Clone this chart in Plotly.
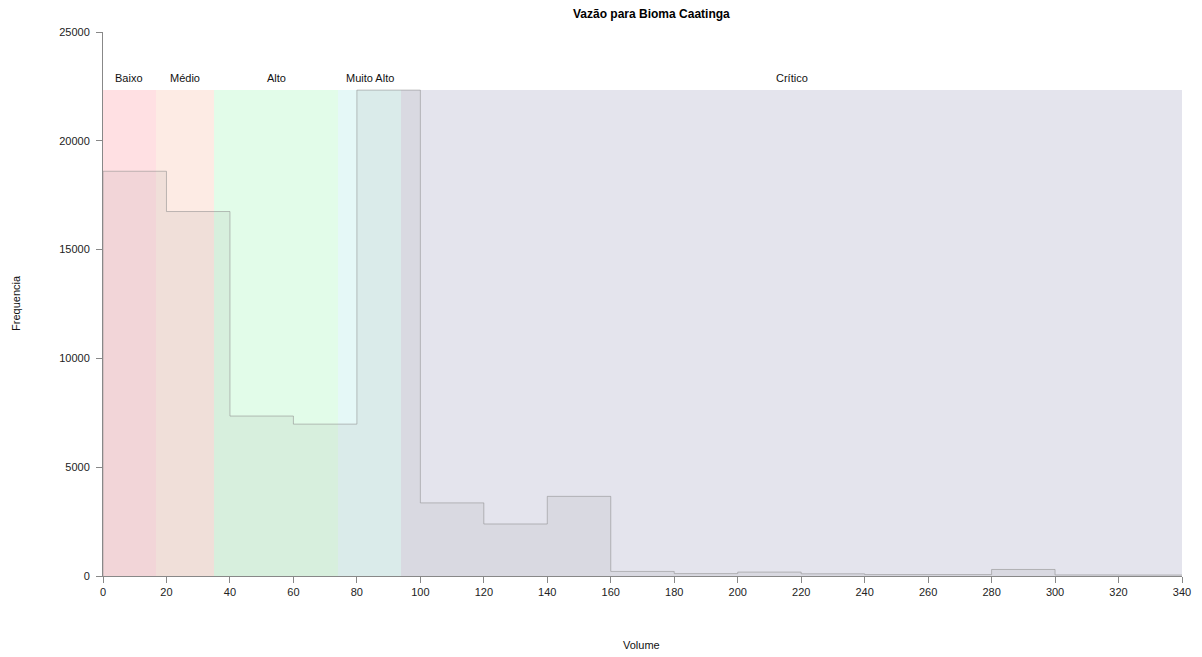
import plotly.graph_objects as go

# Histogram data (bin edges of width 20)
bin_edges = [0, 20, 40, 60, 80, 100, 120, 140, 160, 180, 200, 220, 240, 260, 280, 300, 320, 340]
counts = [18600, 16750, 7350, 6980, 22330, 3360, 2390, 3660, 210, 110, 180, 100, 65, 65, 300, 50, 45]

# Risk bands
band_labels = ["Baixo", "Médio", "Alto", "Muito Alto", "Crítico"]
band_starts = [0, 16.6, 35.0, 74.2, 93.9]
band_ends = [16.6, 35.0, 74.2, 93.9, 340]
band_colors = ["rgb(255,224,227)", "rgb(253,235,228)", "rgb(226,252,233)", "rgb(229,248,247)", "rgb(228,228,237)"]

x_ticks = list(range(0, 341, 20))
y_ticks = [0, 5000, 10000, 15000, 20000, 25000]

band_top = max(counts)
font = "Liberation Sans, Arial, sans-serif"

fig = go.Figure()

# background bands as bars
for lab, s, e, c in zip(band_labels, band_starts, band_ends, band_colors):
    fig.add_trace(go.Bar(x=[(s + e) / 2], y=[band_top], width=[e - s], marker=dict(color=c, line=dict(width=0)),
                         showlegend=False, hoverinfo="skip"))

# histogram as step polygon
xs = [bin_edges[0]] + bin_edges
ys = [0] + counts + [counts[-1]]
fig.add_trace(go.Scatter(x=xs, y=ys, mode="lines", line=dict(shape="hv", color="rgba(140,140,140,0.55)", width=1),
                         fill="tozeroy", fillcolor="rgba(100,100,110,0.085)", showlegend=False, hoverinfo="skip"))

annotations = []
for lab, s, e in zip(band_labels, band_starts, band_ends):
    annotations.append(dict(x=(s + e) / 2, y=band_top, xref="x", yref="y", text=lab, showarrow=False,
                            yanchor="bottom", yshift=4, font=dict(family=font, size=11, color="#111")))

annotations.append(dict(x=0.508, y=1.033, xref="paper", yref="paper", text="<b>Vazão para Bioma Caatinga</b>",
                        showarrow=False, font=dict(family=font, size=12, color="#000"), xanchor="center", yanchor="middle"))
annotations.append(dict(x=0.4995, y=-0.127, xref="paper", yref="paper", text="Volume", showarrow=False,
                        font=dict(family=font, size=11, color="#111"), xanchor="center", yanchor="middle"))
annotations.append(dict(x=-0.0806, y=0.502, xref="paper", yref="paper", text="Frequencia", showarrow=False, textangle=-90,
                        font=dict(family=font, size=11, color="#111"), xanchor="center", yanchor="middle"))

fig.update_layout(
    width=1194, height=649,
    margin=dict(l=95, r=20, t=24, b=81),
    plot_bgcolor="white", paper_bgcolor="white",
    barmode="overlay", bargap=0,
    annotations=annotations,
    xaxis=dict(range=[0, 340], tickvals=x_ticks, showgrid=False, zeroline=False, showline=True, linecolor="#888",
               linewidth=1, ticks="outside", ticklen=6, tickcolor="#888", automargin=False,
               tickfont=dict(family=font, size=11, color="#222")),
    yaxis=dict(range=[0, 25000], tickvals=y_ticks, ticktext=[str(v) for v in y_ticks], showgrid=False, zeroline=False,
               showline=True, linecolor="#888", automargin=False, ticklabelstandoff=4,
               linewidth=1, ticks="outside", ticklen=6, tickcolor="#888", tickfont=dict(family=font, size=11, color="#222")),
)

fig.write_html("out.html")
